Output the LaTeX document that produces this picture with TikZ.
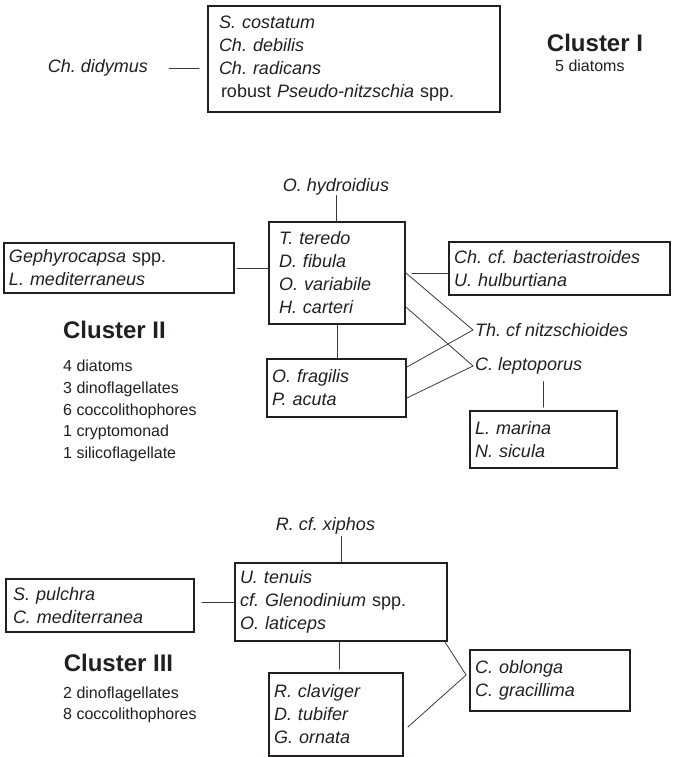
\documentclass[tikz,border=0pt]{standalone}
\usepackage{fontspec}
\setmainfont{Liberation Sans}
\usepackage{xcolor}
\usepackage{tikz}
\usetikzlibrary{positioning}
\definecolor{phInk}{HTML}{231F20}
\definecolor{phLine}{HTML}{3A3A3A}
\tikzset{
  ph diagram/.style={x=1pt, y=-1pt, text=phInk,
    line cap=round, line join=miter},
  ph box/.style={draw=phInk, line width=1.8pt, align=left,
    inner xsep=5pt, inner ysep=0pt,
    font=\fontsize{18}{23}\selectfont\itshape},
  ph taxon/.style={font=\fontsize{18}{23}\selectfont\itshape, inner sep=2pt},
  ph link/.style={draw=phLine, line width=0.8pt},
  ph title/.style={font=\fontsize{24}{28}\selectfont\bfseries},
  ph count/.style={font=\fontsize{16}{21.6}\selectfont, align=left,
    anchor=west, inner sep=0pt}
}
\frenchspacing

\begin{document}
\begin{tikzpicture}[ph diagram]
\useasboundingbox (0,0) rectangle (672,757);
% cluster I
\node[ph box, inner xsep=11pt, minimum width=292pt, minimum height=106pt,
  text width=270pt] (box1) at (354,59)
  {S. costatum\\Ch. debilis\\Ch. radicans\\
   \hspace{2pt}{\upshape robust} Pseudo-nitzschia {\upshape spp.}};
\node[ph taxon] (didymus) at (98,68) {Ch. didymus};
\node[ph title] (title1) at (595,43) {Cluster I};
\node[ph count] (count1) at (555,66) {5 diatoms};
\draw[ph link, shorten <=19pt, shorten >=8pt] (didymus.east) -- (didymus.east -| box1.west);

% cluster II
\node[ph taxon] (hydro) at (336,187) {O. hydroidius};
\node[ph box, inner xsep=10pt, minimum width=136pt, minimum height=102pt,
  text width=116pt] (boxC2) at (337,273)
  {T. teredo\\D. fibula\\O. variabile\\H. carteri};
\node[ph box, minimum width=230pt, minimum height=50pt, text width=220pt]
  (boxL2) at (119,268) {Gephyrocapsa {\upshape spp.}\\L. mediterraneus};
\node[ph box, minimum width=221pt, minimum height=53pt, text width=211pt]
  (boxR2) at (559.5,268.5) {Ch. cf. bacteriastroides\\U. hulburtiana};
\node[ph taxon, anchor=west] (nitz) at (473,330) {Th. cf nitzschioides};
\node[ph taxon, anchor=west] (lepto) at (473,366) {C. leptoporus};
\node[ph box, minimum width=139pt, minimum height=58pt, text width=129pt]
  (boxF2) at (336.5,388) {O. fragilis\\P. acuta};
\node[ph box, minimum width=147pt, minimum height=57pt, text width=137pt]
  (boxM2) at (543.5,439.5) {L. marina\\N. sicula};
\node[ph title] (title2) at (114.5,330) {Cluster II};
\node[ph count] (count2) at (63,411)
  {4 diatoms\\3 dinoflagellates\\6 coccolithophores\\1 cryptomonad\\1 silicoflagellate};
\draw[ph link, shorten <=-2pt] (hydro.south) -- (hydro.south |- boxC2.north);
\draw[ph link, shorten <=2pt] (boxL2.east) -- (boxL2.east -| boxC2.west);
\draw[ph link, shorten <=6pt] (boxC2.east) -- (boxC2.east -| boxR2.west);
\draw[ph link] (boxC2.east) -- (nitz.west);
\draw[ph link] ([yshift=-34pt]boxC2.east) -- (lepto.west);
\draw[ph link] ([yshift=21pt]boxF2.east) -- (nitz.west);
\draw[ph link] ([yshift=-10pt]boxF2.east) -- (lepto.west);
\draw[ph link] (boxC2.south) -- (boxC2.south |- boxF2.north);
\draw[ph link, shorten <=5pt, shorten >=3pt] (lepto.south -| boxM2.north) -- (boxM2.north);

% cluster III
\node[ph taxon] (xiphos) at (325.5,526) {R. cf. xiphos};
\node[ph box, minimum width=212pt, minimum height=78pt, text width=202pt]
  (boxC3) at (341,602)
  {U. tenuis\\cf. Glenodinium {\upshape spp.}\\O. laticeps};
\node[ph box, inner xsep=7pt, minimum width=188pt, minimum height=53pt,
  text width=174pt] (boxL3) at (100,605.5) {S. pulchra\\C. mediterranea};
\node[ph title] (title3) at (118.5,663) {Cluster III};
\node[ph count] (count3) at (63,705) {2 dinoflagellates\\8 coccolithophores};
\node[ph box, minimum width=134pt, minimum height=83pt, text width=124pt]
  (boxB3) at (336,714.5) {R. claviger\\D. tubifer\\G. ornata};
\node[ph box, minimum width=160pt, minimum height=61pt, text width=150pt]
  (boxR3) at (550,680.5) {C. oblonga\\C. gracillima};
\coordinate (obl) at ([xshift=-3pt,yshift=5.5pt]boxR3.west);
\draw[ph link] (xiphos.south -| boxC3.north) -- (boxC3.north);
\draw[ph link, shorten <=7pt] (boxC3.west -| boxL3.east) -- (boxC3.west);
\draw[ph link, shorten >=3pt] (boxC3.south -| boxB3.north) ++(3pt,0) -- ([xshift=3pt]boxB3.north);
\draw[ph link] ([xshift=-3pt]boxC3.south east) -- (obl)
  -- ([xshift=4pt,yshift=-12.5pt]boxB3.east);
\end{tikzpicture}
\end{document}
